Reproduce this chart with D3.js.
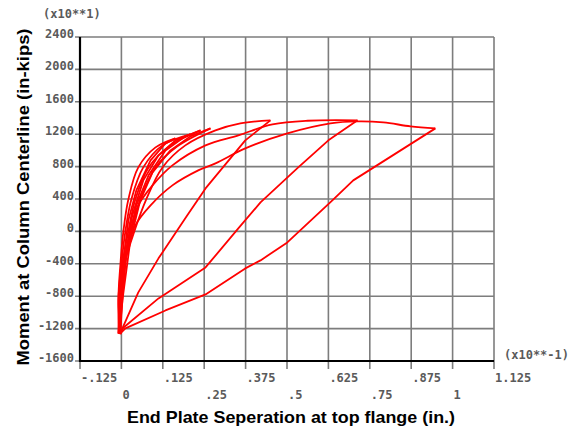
<!DOCTYPE html>
<html>
<head>
<meta charset="utf-8">
<script src="https://cdn.jsdelivr.net/npm/d3@7"></script>
<style>
body{margin:0;background:#fff}
</style>
</head>
<body>
<svg id="chart" width="576" height="434"></svg>
<script>
const xTicks=[-0.125,0,0.125,0.25,0.375,0.5,0.625,0.75,0.875,1,1.125]
const xTickLabels=['-.125','0','.125','.25','.375','.5','.625','.75','.875','1','1.125']
const yTicks=[-1600,-1200,-800,-400,0,400,800,1200,1600,2000,2400]

// loading branches (smooth) and unloading branches, in displayed units
const load1=[[-0.003,-1260],[-0.009,-852],[-0.003,-408],[0.006,0],[0.021,395],[0.051,790],[0.103,1037],[0.163,1149]]
const unload1=[[0.163,1149],[0.133,1087],[0.088,877],[0.045,506],[0.021,136],[0.006,-358],[-0.003,-852],[-0.006,-1260]]
const load2=[[-0.006,-1260],[-0.009,-852],[0,-408],[0.012,0],[0.03,395],[0.066,790],[0.124,1062],[0.208,1198]]
const unload2=[[0.208,1198],[0.163,1124],[0.112,939],[0.066,630],[0.033,198],[0.012,-296],[0,-852],[-0.006,-1260]]
const load3=[[-0.006,-1260],[-0.006,-852],[0.003,-408],[0.021,0],[0.042,395],[0.082,790],[0.148,1062],[0.239,1247]]
const unload3=[[0.239,1247],[0.193,1173],[0.133,1000],[0.082,692],[0.045,321],[0.018,-173],[0,-852],[-0.009,-1260]]
const load4=[[-0.009,-1260],[-0.006,-852],[0.006,-408],[0.03,0],[0.057,395],[0.103,790],[0.169,1050],[0.269,1272]]
const unload4=[[0.269,1272],[0.208,1173],[0.148,1000],[0.094,729],[0.057,383],[0.027,-111],[0.003,-852],[-0.006,-1260]]
const load5=[[-0.006,-1260],[-0.003,-852],[0.009,-408],[0.039,0],[0.075,395],[0.124,790],[0.193,1062],[0.284,1247],[0.359,1334],[0.45,1371]]
const unload5=[[0.45,1371],[0.374,1124],[0.254,531],[0.199,198],[0.112,-333],[0.051,-753],[0.003,-1198],[-0.003,-1270]]
const load6=[[-0.003,-1270],[0,-852],[0.009,-408],[0.027,0],[0.051,321],[0.094,568],[0.154,815],[0.254,1062],[0.353,1186],[0.456,1321],[0.562,1366],[0.713,1371]]
const unload6=[[0.713,1371],[0.625,1124],[0.534,790],[0.42,358],[0.353,37],[0.254,-445],[0.112,-827],[0.003,-1198],[-0.003,-1260]]
const load7=[[-0.003,-1260],[0.003,-852],[0.018,-235],[0.042,74],[0.088,321],[0.154,568],[0.232,753],[0.284,840],[0.374,1025],[0.501,1210],[0.631,1334],[0.713,1358],[0.791,1346],[0.873,1297],[0.948,1272]]
const unload7=[[0.948,1272],[0.7,630],[0.637,383],[0.501,-136],[0.42,-358],[0.374,-457],[0.254,-778],[0.133,-976],[0.012,-1198],[-0.003,-1260]]

const loads=[load1,load2,load3,load4,load5,load6,load7]
const unloads=[unload1,unload2,unload3,unload4,unload5,unload6,unload7]

const svg=d3.select('#chart')
const x=d3.scaleLinear().domain([-0.125,1.125]).range([80,494])
const y=d3.scaleLinear().domain([-1600,2400]).range([361,37])

const grid=svg.append('g')
grid.selectAll('.vg').data(xTicks).enter().append('line')
  .attr('x1',d=>x(d)).attr('x2',d=>x(d))
  .attr('y1',y(2400)).attr('y2',y(-1600)+8)
  .attr('stroke','#7d7d7d').attr('stroke-width',1.6)
grid.selectAll('.hg').data(yTicks).enter().append('line')
  .attr('x1',x(-0.125)-5).attr('x2',x(1.125))
  .attr('y1',d=>y(d)).attr('y2',d=>y(d))
  .attr('stroke','#7d7d7d').attr('stroke-width',1.6)

svg.append('line').attr('x1',x(-0.125)).attr('x2',x(-0.125))
  .attr('y1',y(2400)).attr('y2',y(-1600)+1)
  .attr('stroke','#000').attr('stroke-width',2.2)
svg.append('line').attr('x1',x(-0.125)).attr('x2',x(1.125))
  .attr('y1',y(-1600)).attr('y2',y(-1600))
  .attr('stroke','#000').attr('stroke-width',2.2)

const tickFont='"DejaVu Sans Mono", monospace'
const tickText=sel=>sel.attr('font-family',tickFont).attr('font-size',12)
  .attr('font-weight','bold').attr('fill','#5a5a5a')
svg.selectAll('.yl').data(yTicks).enter().append('text')
  .attr('x',74).attr('y',d=>y(d)+1)
  .attr('text-anchor','end')
  .call(tickText)
  .text(d=>d)
svg.selectAll('.xl').data(xTicks).enter().append('text')
  .attr('x',d=>x(d)+1).attr('y',(d,i)=>i%2===0?382:399)
  .attr('text-anchor','start')
  .call(tickText)
  .text((d,i)=>xTickLabels[i])
svg.append('text').attr('x',43).attr('y',18).call(tickText).text('(x10**1)')
svg.append('text').attr('x',504).attr('y',359).call(tickText).text('(x10**-1)')

const titleFont='"Liberation Sans", Arial, sans-serif'
svg.append('text').attr('x',291).attr('y',423)
  .attr('text-anchor','middle')
  .attr('font-family',titleFont).attr('font-weight','bold').attr('font-size',16.5)
  .attr('textLength',328).attr('lengthAdjust','spacingAndGlyphs')
  .text('End Plate Seperation at top flange (in.)')
svg.append('text').attr('transform','translate(29,197) rotate(-90)')
  .attr('text-anchor','middle')
  .attr('font-family',titleFont).attr('font-weight','bold').attr('font-size',16.5)
  .attr('textLength',337).attr('lengthAdjust','spacingAndGlyphs')
  .text('Moment at Column Centerline (in-kips)')

const smooth=d3.line().x(d=>x(d[0])).y(d=>y(d[1])).curve(d3.curveCatmullRom.alpha(0.5))
const straight=d3.line().x(d=>x(d[0])).y(d=>y(d[1]))
const curves=svg.append('g')
loads.forEach(l=>{
  curves.append('path').datum(l)
    .attr('fill','none').attr('stroke','#ff0000').attr('stroke-width',1.8)
    .attr('stroke-linejoin','round').attr('d',smooth)
})
unloads.forEach(u=>{
  curves.append('path').datum(u)
    .attr('fill','none').attr('stroke','#ff0000').attr('stroke-width',1.8)
    .attr('stroke-linejoin','round').attr('d',straight)
})
</script>
</body>
</html>
